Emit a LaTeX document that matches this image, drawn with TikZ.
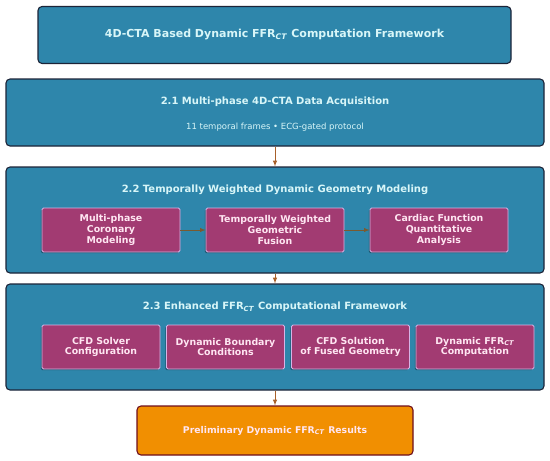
\documentclass[tikz,border=0pt]{standalone}
\usepackage{fontspec}
\setmainfont{DejaVu Sans}
\usetikzlibrary{shadows}
\definecolor{secblue}{HTML}{2E86AB}
\definecolor{secline}{HTML}{1C2438}
\definecolor{stepfill}{HTML}{A23B72}
\definecolor{stepline}{HTML}{D6B4E6}
\definecolor{resfill}{HTML}{F18F01}
\definecolor{resline}{HTML}{6E0F1E}
\definecolor{flow}{HTML}{A8602A}
\definecolor{subflow}{HTML}{7A5A30}
\definecolor{headtext}{HTML}{D8F6F8}
\definecolor{steptext}{HTML}{FFE6F2}
\newcommand{\ffrct}{FFR\textsubscript{\textit{CT}}}

\begin{document}
\begin{tikzpicture}[x=1pt,y=-1pt,
    sec/.style={draw=secline,line width=1.1pt,fill=secblue,rounded corners=4pt,inner sep=0pt},
    stepbox/.style={draw=stepline,line width=0.8pt,fill=stepfill,rounded corners=1.5pt,
        minimum height=44pt,align=center,font=\bfseries\fontsize{9.4}{10.8}\selectfont,text=steptext,
        drop shadow={shadow xshift=-1.2pt,shadow yshift=-1.2pt,fill=black,opacity=0.35}},
    head/.style={font=\bfseries\fontsize{10}{12}\selectfont,text=headtext},
    flowarrow/.style={draw=flow,line width=1pt,-latex}]
    \useasboundingbox (0,0) rectangle (550,461);

    % framework title
    \node [sec,minimum width=473pt,minimum height=57pt] (title) at (274.5,35)
        {\bfseries\fontsize{11}{13}\selectfont\color{headtext}4D-CTA Based Dynamic \ffrct{} Computation Framework};

    % 2.1 acquisition
    \node [sec,minimum width=538pt,minimum height=67pt] (acq) at (275,112.5) {};
    \node [head] (acqhead) at (275,102) {2.1 Multi-phase 4D-CTA Data Acquisition};
    \node [font=\fontsize{8.5}{10}\selectfont,text=headtext] (acqsub) at (275,127)
        {11 temporal frames • ECG-gated protocol};

    % 2.2 geometry modeling
    \node [sec,minimum width=538pt,minimum height=106pt] (geo) at (275,220) {};
    \node [head] (geohead) at (275,190) {2.2 Temporally Weighted Dynamic Geometry Modeling};
    \node [stepbox,minimum width=138pt] (coro) at (111,230) {Multi-phase\\Coronary\\Modeling};
    \node [stepbox,minimum width=138pt] (fuse) at (275,230) {Temporally Weighted\\Geometric\\Fusion};
    \node [stepbox,minimum width=138pt] (card) at (439,230) {Cardiac Function\\Quantitative\\Analysis};
    \draw [subflow,line width=0.9pt,-latex] (coro) -- (fuse);
    \draw [subflow,line width=0.9pt,-latex] (fuse) -- (card);

    % 2.3 computational framework
    \node [sec,minimum width=538pt,minimum height=106pt] (cfd) at (275,337) {};
    \node [head] (cfdhead) at (275,307) {2.3 Enhanced \ffrct{} Computational Framework};
    \node [stepbox,minimum width=118pt] (solver) at (101,347) {CFD Solver\\Configuration};
    \node [stepbox,minimum width=118pt] (bound) at (225.5,347) {Dynamic Boundary\\Conditions};
    \node [stepbox,minimum width=118pt] (solution) at (350.5,347) {CFD Solution\\of Fused Geometry};
    \node [stepbox,minimum width=118pt] (dyn) at (475,347) {Dynamic \ffrct\\Computation};

    % results
    \node [draw=resline,line width=1.1pt,fill=resfill,rounded corners=4pt,
        minimum width=276pt,minimum height=49pt,text=steptext,
        font=\bfseries\fontsize{9.3}{11}\selectfont] (res) at (275,430.5)
        {Preliminary Dynamic \ffrct{} Results};

    \draw [flowarrow] (acq) -- (geo);
    \draw [flowarrow] (geo) -- (cfd);
    \draw [flowarrow] (cfd) -- (res);
\end{tikzpicture}
\end{document}
